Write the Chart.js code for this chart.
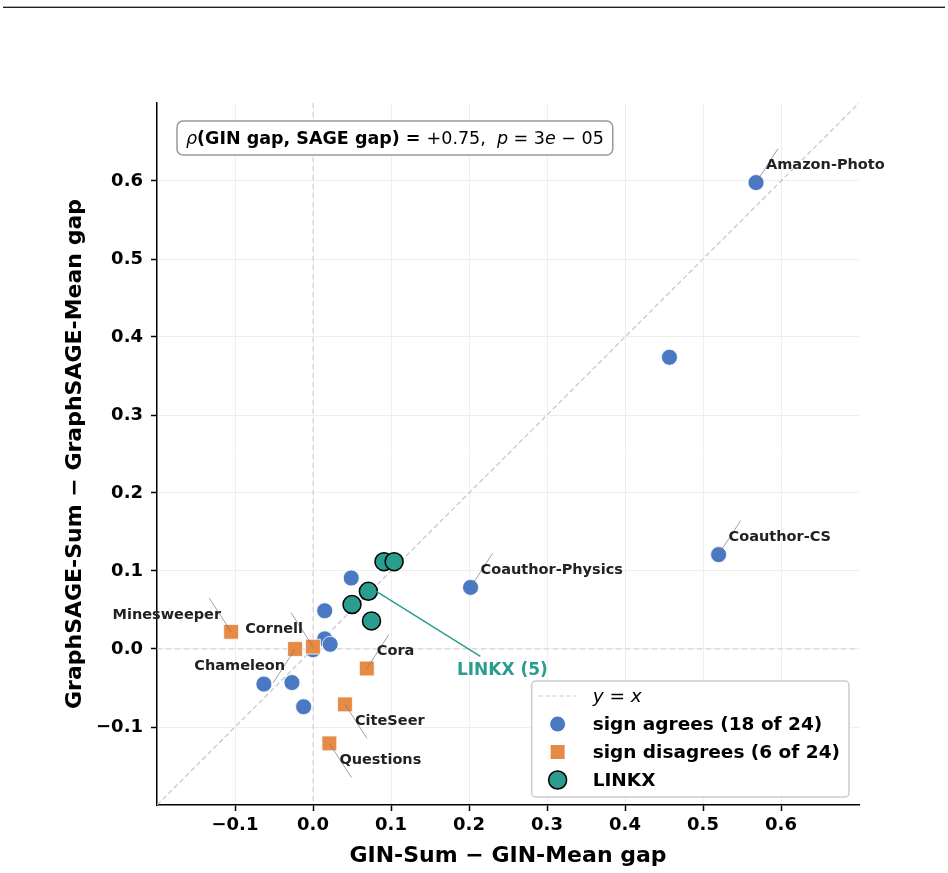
<!DOCTYPE html>
<html>
<head>
<meta charset="utf-8">
<script src="https://cdn.jsdelivr.net/npm/chart.js@4"></script>
<style>
    body { margin: 0; background: #fff; }
    #wrap { position: relative; width: 948px; height: 873px; }
    #rule { position: absolute; top: 6px; left: 3px; width: 942px; border-top: 1px solid #aaa; border-bottom: 1px solid #222; }
</style>
</head>
<body>
<div id="wrap"><canvas id="gapChart"></canvas><div id="rule"></div></div>
<script>
// datasets where GIN and GraphSAGE gaps have the same sign
const agreeNames = ["Amazon-Photo", "", "Coauthor-CS", "Coauthor-Physics", "", "", "", "", "", "", "", ""]
const agreeX = [0.568, 0.457, 0.520, 0.202, 0.049, 0.015, 0.015, 0.022, 0.000, -0.063, -0.027, -0.012]
const agreeY = [0.598, 0.374, 0.121, 0.079, 0.091, 0.049, 0.013, 0.006, -0.001, -0.045, -0.043, -0.074]

// datasets where the sign flips
const disagreeNames = ["Minesweeper", "Chameleon", "Cornell", "Cora", "CiteSeer", "Questions"]
const disagreeX = [-0.105, -0.023, 0.000, 0.069, 0.041, 0.021]
const disagreeY = [0.022, 0.000, 0.003, -0.025, -0.071, -0.121]

// LINKX datasets
const linkxX = [0.091, 0.104, 0.071, 0.050, 0.075]
const linkxY = [0.112, 0.112, 0.074, 0.057, 0.036]

const axisMin = -0.2
const axisMax = 0.7
const tickValues = [-0.1, 0.0, 0.1, 0.2, 0.3, 0.4, 0.5, 0.6]

const corrText = [
    { t: "ρ", f: "italic 17.5px 'DejaVu Sans'" },
    { t: "(GIN gap, SAGE gap) = ", f: "bold 17.5px 'DejaVu Sans'" },
    { t: "+0.75,", f: "17.5px 'DejaVu Sans'" },
    { t: "  ", f: "17.5px 'DejaVu Sans'" },
    { t: "p", f: "italic 17.5px 'DejaVu Sans'" },
    { t: " = 3", f: "17.5px 'DejaVu Sans'" },
    { t: "e", f: "italic 17.5px 'DejaVu Sans'" },
    { t: " − 05", f: "17.5px 'DejaVu Sans'" }
]

// which way each label sits from its point: [x sign, y sign] in screen pixels
const labelSide = {
    "Amazon-Photo": [1, -1], "Coauthor-CS": [1, -1], "Coauthor-Physics": [1, -1],
    "Minesweeper": [-1, -1], "Cornell": [-1, -1], "Chameleon": [-1, 1],
    "Cora": [1, -1], "CiteSeer": [1, 1], "Questions": [1, 1]
}

const BLUE = "#4a78c2"
const ORANGE = "#e68a45"
const TEAL = "#2a9d8f"
const FONT = "'DejaVu Sans'"

function toPoints(xs, ys) {
    return xs.map((x, i) => ({ x: x, y: ys[i] }))
}

function fmt(v) {
    if (Math.abs(v) < 1e-9) return "0.0"
    return v.toFixed(1).replace("-", "−")
}

const overlay = {
    id: "overlay",
    beforeDatasetsDraw(chart) {
        const { ctx, chartArea: a, scales: { x, y } } = chart
        ctx.save()
        ctx.strokeStyle = "#cccccc"
        ctx.lineWidth = 1
        ctx.setLineDash([5, 4])
        const x0 = x.getPixelForValue(0), y0 = y.getPixelForValue(0)
        ctx.beginPath()
        ctx.moveTo(x0, a.top); ctx.lineTo(x0, a.bottom)
        ctx.moveTo(a.left, y0); ctx.lineTo(a.right, y0)
        ctx.stroke()
        ctx.restore()
    },
    afterDatasetsDraw(chart) {
        const { ctx, scales: { x, y } } = chart
        ctx.save()
        const groups = [[agreeNames, agreeX, agreeY], [disagreeNames, disagreeX, disagreeY]]
        groups.forEach(([names, xs, ys]) => {
            names.forEach((name, i) => {
                if (!name) return
                const [sx, sy] = labelSide[name]
                const px = x.getPixelForValue(xs[i]), py = y.getPixelForValue(ys[i])
                ctx.strokeStyle = "rgba(120,120,120,0.7)"
                ctx.lineWidth = 1
                ctx.beginPath()
                ctx.moveTo(px, py)
                ctx.lineTo(px + 22 * sx, py + 34 * sy)
                ctx.stroke()
                ctx.fillStyle = "#222"
                ctx.font = "bold 14.5px " + FONT
                ctx.textAlign = sx > 0 ? "left" : "right"
                ctx.textBaseline = "middle"
                ctx.fillText(name, px + 10 * sx, py + 17 * sy)
            })
        })
        // LINKX callout from the third LINKX point
        const lx = x.getPixelForValue(linkxX[2]), ly = y.getPixelForValue(linkxY[2])
        ctx.strokeStyle = TEAL
        ctx.lineWidth = 1.5
        ctx.beginPath()
        ctx.moveTo(lx + 8, ly)
        ctx.lineTo(lx + 112, ly + 65)
        ctx.stroke()
        ctx.fillStyle = TEAL
        ctx.font = "bold 17px " + FONT
        ctx.textAlign = "center"
        ctx.textBaseline = "middle"
        ctx.fillText("LINKX (5)", lx + 134, ly + 79)
        ctx.restore()
    },
    afterDraw(chart) {
        const { ctx, chartArea: a } = chart
        ctx.save()
        // axis titles
        ctx.fillStyle = "#000"
        ctx.font = "bold 22px " + FONT
        ctx.textAlign = "center"
        ctx.textBaseline = "middle"
        ctx.fillText("GIN-Sum − GIN-Mean gap", (a.left + a.right) / 2, 856)
        ctx.save()
        ctx.translate(75, (a.top + a.bottom) / 2)
        ctx.rotate(-Math.PI / 2)
        ctx.fillText("GraphSAGE-Sum − GraphSAGE-Mean gap", 0, 0)
        ctx.restore()

        // correlation box
        let w = 0
        corrText.forEach(p => { ctx.font = p.f; w += ctx.measureText(p.t).width })
        const bx = a.left + 20, by = a.top + 18, bw = w + 18, bh = 34
        ctx.beginPath()
        ctx.roundRect(bx, by, bw, bh, 6)
        ctx.fillStyle = "#fff"
        ctx.fill()
        ctx.strokeStyle = "#999"
        ctx.lineWidth = 1.5
        ctx.stroke()
        ctx.fillStyle = "#000"
        ctx.textAlign = "left"
        ctx.textBaseline = "middle"
        let cx = bx + 9
        corrText.forEach(p => {
            ctx.font = p.f
            ctx.fillText(p.t, cx, by + bh / 2 + 1)
            cx += ctx.measureText(p.t).width
        })

        // legend
        const items = [
            { label: "y = x", kind: "line" },
            { label: "sign agrees (" + (agreeX.length + linkxX.length + 1) + " of 24)", kind: "circle" },
            { label: "sign disagrees (" + disagreeX.length + " of 24)", kind: "rect" },
            { label: "LINKX", kind: "linkx" }
        ]
        ctx.font = "bold 18.5px " + FONT
        let tw = 0
        items.forEach(it => { tw = Math.max(tw, ctx.measureText(it.label).width) })
        const lw = 61 + tw + 9, lh = 116
        const lxl = a.right - 10 - lw, lyt = a.bottom - 8 - lh
        ctx.beginPath()
        ctx.roundRect(lxl, lyt, lw, lh, 4)
        ctx.fillStyle = "rgba(255,255,255,0.85)"
        ctx.fill()
        ctx.strokeStyle = "#cccccc"
        ctx.lineWidth = 1.5
        ctx.stroke()
        items.forEach((it, i) => {
            const ry = lyt + 15 + i * 28
            const hx = lxl + 26
            if (it.kind === "line") {
                ctx.strokeStyle = "#c8c8c8"
                ctx.lineWidth = 1.2
                ctx.setLineDash([4, 3])
                ctx.beginPath(); ctx.moveTo(hx - 19, ry); ctx.lineTo(hx + 18, ry); ctx.stroke()
                ctx.setLineDash([])
                ctx.font = "italic 18.5px " + FONT
            } else {
                ctx.beginPath()
                if (it.kind === "rect") {
                    ctx.rect(hx - 7, ry - 7, 14, 14)
                    ctx.fillStyle = ORANGE
                    ctx.fill()
                } else if (it.kind === "circle") {
                    ctx.arc(hx, ry, 7.5, 0, Math.PI * 2)
                    ctx.fillStyle = BLUE
                    ctx.fill()
                } else {
                    ctx.arc(hx, ry, 9, 0, Math.PI * 2)
                    ctx.fillStyle = TEAL
                    ctx.fill()
                    ctx.strokeStyle = "#000"
                    ctx.lineWidth = 1.5
                    ctx.stroke()
                }
                ctx.font = "bold 18.5px " + FONT
            }
            ctx.fillStyle = "#000"
            ctx.textAlign = "left"
            ctx.textBaseline = "middle"
            ctx.fillText(it.label, lxl + 61, ry + 1)
        })
        ctx.restore()
    }
}

const axisCommon = {
    type: "linear",
    min: axisMin,
    max: axisMax,
    ticks: {
        stepSize: 0.1,
        color: "#000",
        font: { family: FONT, size: 18, weight: "bold" },
        callback: v => fmt(v)
    },
    grid: { color: "#eeeeee", lineWidth: 1, tickColor: "#000", tickLength: 6, tickWidth: 1.5 },
    border: { display: true, color: "#000", width: 1.5 },
    afterBuildTicks: scale => {
        scale.ticks = tickValues.map(v => ({ value: v }))
    }
}

new Chart("gapChart", {
    type: "scatter",
    data: {
        datasets: [
            {
                label: "LINKX",
                data: toPoints(linkxX, linkxY),
                backgroundColor: TEAL,
                borderColor: "#000",
                borderWidth: 1.5,
                pointRadius: 9,
                order: 1
            },
            {
                label: "sign disagrees",
                data: toPoints(disagreeX, disagreeY),
                pointStyle: "rect",
                backgroundColor: ORANGE,
                borderColor: "#fff",
                borderWidth: 0.8,
                pointRadius: 10.5,
                order: 2
            },
            {
                label: "sign agrees",
                data: toPoints(agreeX, agreeY),
                backgroundColor: BLUE,
                borderColor: "#fff",
                borderWidth: 0.8,
                pointRadius: 8,
                order: 3
            },
            {
                label: "y = x",
                type: "line",
                data: [{ x: axisMin, y: axisMin }, { x: axisMax, y: axisMax }],
                borderColor: "#c4c4c4",
                borderWidth: 1.2,
                borderDash: [5, 3],
                pointRadius: 0,
                order: 4
            }
        ]
    },
    options: {
        responsive: true,
        maintainAspectRatio: false,
        animation: false,
        layout: { padding: { left: 0, right: 89, top: 103, bottom: 0 } },
        plugins: { legend: { display: false }, tooltip: { enabled: false } },
        scales: {
            x: Object.assign({}, axisCommon, {
                position: "bottom",
                ticks: Object.assign({}, axisCommon.ticks, { padding: 4 }),
                afterFit: scale => { scale.height = 68 }
            }),
            y: Object.assign({}, axisCommon, {
                position: "left",
                ticks: Object.assign({}, axisCommon.ticks, { padding: 8 }),
                afterFit: scale => { scale.width = 157 }
            })
        }
    },
    plugins: [overlay]
})
</script>
</body>
</html>
